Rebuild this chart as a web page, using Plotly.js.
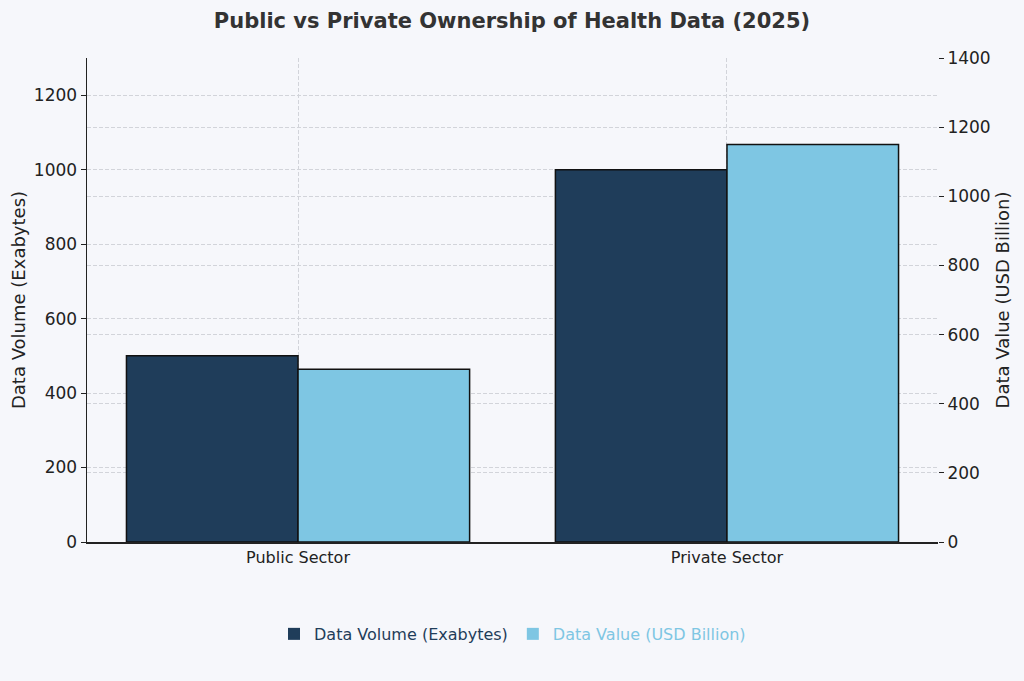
<!DOCTYPE html>
<html><head><meta charset="utf-8">
<script src="https://cdn.plot.ly/plotly-3.0.1.min.js"></script>
<style>html,body{margin:0;padding:0;background:#f6f7fb;}</style>
</head><body>
<div id="chart" style="width:1024px;height:681px;"></div>
<script>
const categories = ["Public Sector", "Private Sector"];
const dataVolume = [500, 1000];
const dataValue = [500, 1150];
const leftTicks = [0, 200, 400, 600, 800, 1000, 1200];
const rightTicks = [0, 200, 400, 600, 800, 1000, 1200, 1400];

const volColor = "#1f3d5a";
const valColor = "#7ec6e3";

const traces = [
  {type:"bar", x:categories, y:dataVolume, name:"Data Volume (Exabytes)", showlegend:false,
   marker:{color:volColor, line:{color:"#111", width:1.5}}, offsetgroup:"1", yaxis:"y", hoverinfo:"y"},
  {type:"bar", x:categories, y:dataValue, name:"Data Value (USD Billion)", showlegend:false,
   marker:{color:valColor, line:{color:"#111", width:1.5}}, offsetgroup:"2", yaxis:"y2", hoverinfo:"y"},
  {type:"scatter", mode:"markers", x:[null], y:[null], name:'<span style="color:'+volColor+'">Data Volume (Exabytes)</span>',
   marker:{symbol:"square", size:12, color:volColor}, hoverinfo:"skip"},
  {type:"scatter", mode:"markers", x:[null], y:[null], name:'<span style="color:'+valColor+'">Data Value (USD Billion)</span>',
   marker:{symbol:"square", size:12, color:valColor}, hoverinfo:"skip"}
];

const font = "DejaVu Sans, sans-serif";
const grid = "#d2d4da";
const layout = {
  width:1024, height:681,
  paper_bgcolor:"#f6f7fb", plot_bgcolor:"#f6f7fb",
  margin:{l:87, r:86, t:58, b:139},
  font:{family:font, color:"#222"},
  title:{text:"<b>Public vs Private Ownership of Health Data (2025)</b>", x:0.5, xanchor:"center", y:0.97, yanchor:"middle", font:{size:21, color:"#333", family:font}},
  barmode:"group", bargap:0.2, bargroupgap:0,
  showlegend:true,
  legend:{orientation:"h", x:0.5, xanchor:"center", y:-0.19, yanchor:"middle", font:{size:16, family:font}, bgcolor:"rgba(0,0,0,0)", itemwidth:30},
  xaxis:{type:"category", range:[-0.492, 1.492], showline:true, linecolor:"#222", linewidth:1.5, ticks:"", showgrid:true, gridcolor:grid, griddash:"4px,2px", gridwidth:1,
    tickfont:{size:16, color:"#222"}, zeroline:false, layer:"above traces"},
  yaxis:{range:[0,1300], tickvals:leftTicks, showline:true, linecolor:"#222", linewidth:1.5, ticks:"outside", ticklen:5, tickcolor:"#222",
    showgrid:true, gridcolor:grid, griddash:"4px,2px", gridwidth:1, zeroline:false, tickfont:{size:17, color:"#222"},
    title:{text:"Data Volume (Exabytes)", font:{size:18, color:"#222"}, standoff:3}, layer:"above traces"},
  yaxis2:{range:[0,1400], tickvals:rightTicks, overlaying:"y", side:"right", showline:false, ticks:"outside", ticklen:5, tickcolor:"#222",
    showgrid:true, gridcolor:grid, griddash:"4px,2px", gridwidth:1, zeroline:false, tickfont:{size:17, color:"#222"},
    title:{text:"Data Value (USD Billion)", font:{size:18, color:"#222"}, standoff:6}, layer:"above traces"}
};
Plotly.newPlot("chart", traces, layout, {displayModeBar:false, staticPlot:true});
</script>
</body></html>
